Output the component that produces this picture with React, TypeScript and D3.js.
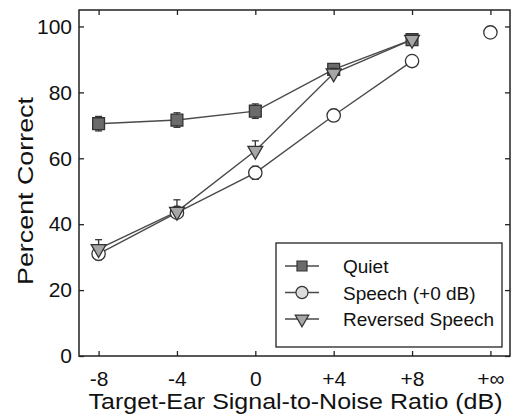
import React, { useEffect, useRef } from 'react';
import * as d3 from 'd3';

// SNR conditions (+inf plotted at 12)
const snrValues = [-8, -4, 0, 4, 8];
const tickValues = [-8, -4, 0, 4, 8, 12];
const tickLabels = ['-8', '-4', '0', '+4', '+8', '+\u221e'];
const yTicks = [0, 20, 40, 60, 80, 100];

const quietValues = [70.5, 71.6, 74.3, 87, 96];
const quietErr = [2.2, 2.2, 2.2, 1.3, 1.1];
const speechValues = [31, 43.5, 55.6, 73, 89.5];
const speechErr = [1.8, 1.5, 2, 1.8, 1.2];
const speechInf = 98.2;
const reversedValues = [32.5, 43.8, 62.3, 85.8, 96];
const reversedErr = [2.8, 3.6, 3, 1.5, 1.2];

const seriesNames = ['Quiet', 'Speech (+0 dB)', 'Reversed Speech'];

const width = 511;
const height = 418;
const left = 79;
const right = 510;
const top = 10;
const bottom = 356;
const font = '"Liberation Sans", Arial, sans-serif';

function App() {
    const svgRef = useRef<SVGSVGElement>(null);

    useEffect(() => {
        const svg = d3.select(svgRef.current);
        svg.selectAll('*').remove();

        const x = d3.scaleLinear().domain([-9, 13]).range([left, right]);
        const y = d3.scaleLinear().domain([0, 105]).range([bottom, top]);

        const ink = '#222';

        // frame
        svg.append('rect')
            .attr('x', left).attr('y', top)
            .attr('width', right - left).attr('height', bottom - top)
            .attr('fill', 'none').attr('stroke', ink).attr('stroke-width', 1.5);

        const xAxis = d3.axisBottom(x).tickValues(tickValues)
            .tickFormat((d, i) => tickLabels[i]).tickSize(-5).tickPadding(15);
        const xTop = d3.axisTop(x).tickValues(tickValues).tickFormat(() => '').tickSize(-5);
        const yAxis = d3.axisLeft(y).tickValues(yTicks).tickSize(-5).tickPadding(7);
        const yRight = d3.axisRight(y).tickValues(yTicks).tickFormat(() => '').tickSize(-5);

        const styleAxis = (g) => {
            g.select('.domain').remove();
            g.selectAll('line').attr('stroke', ink).attr('stroke-width', 1.3);
            g.selectAll('text').attr('fill', '#111').style('font-size', '21px').style('font-family', font);
        };

        svg.append('g').attr('transform', `translate(0,${bottom})`).call(xAxis).call(styleAxis);
        svg.append('g').attr('transform', `translate(0,${top})`).call(xTop).call(styleAxis);
        svg.append('g').attr('transform', `translate(${left},0)`).call(yAxis).call(styleAxis);
        svg.append('g').attr('transform', `translate(${right},0)`).call(yRight).call(styleAxis);

        // axis titles
        svg.append('text')
            .attr('x', 295.5).attr('y', 409)
            .attr('text-anchor', 'middle')
            .attr('textLength', 414).attr('lengthAdjust', 'spacingAndGlyphs')
            .style('font-family', font).style('font-size', '22px').attr('fill', '#111')
            .text('Target-Ear Signal-to-Noise Ratio (dB)');
        svg.append('text')
            .attr('transform', `translate(33,191) rotate(-90)`)
            .attr('text-anchor', 'middle')
            .attr('textLength', 188).attr('lengthAdjust', 'spacingAndGlyphs')
            .style('font-family', font).style('font-size', '22px').attr('fill', '#111')
            .text('Percent Correct');

        const series = [
            { values: quietValues, err: quietErr, upOnly: false, shape: d3.symbolSquare, size: 140, fill: '#6b6b6b', legendFill: '#6b6b6b', legendSize: 100, rot: 0 },
            { values: speechValues, err: speechErr, upOnly: false, shape: d3.symbolCircle, size: 140, fill: '#ffffff', legendFill: '#dcdcdc', legendSize: 115, rot: 0 },
            { values: reversedValues, err: reversedErr, upOnly: true, shape: d3.symbolTriangle, size: 95, fill: '#a6a6a6', legendFill: '#a6a6a6', legendSize: 80, rot: 180 },
        ];

        const line = d3.line<number>().x((d, i) => x(snrValues[i])).y((d) => y(d));

        series.forEach((s) => {
            svg.append('path')
                .attr('d', line(s.values))
                .attr('fill', 'none').attr('stroke', '#4a4a4a').attr('stroke-width', 1.4);
        });

        series.forEach((s) => {
            const g = svg.append('g');
            s.values.forEach((v, i) => {
                const cx = x(snrValues[i]);
                const y1 = y(v + s.err[i]);
                const y2 = s.upOnly ? y(v) : y(v - s.err[i]);
                g.append('line').attr('x1', cx).attr('x2', cx).attr('y1', y1).attr('y2', y2)
                    .attr('stroke', '#333').attr('stroke-width', 1.3);
                g.append('line').attr('x1', cx - 3.5).attr('x2', cx + 3.5).attr('y1', y1).attr('y2', y1)
                    .attr('stroke', '#333').attr('stroke-width', 1.3);
                if (!s.upOnly) {
                    g.append('line').attr('x1', cx - 3.5).attr('x2', cx + 3.5).attr('y1', y2).attr('y2', y2)
                        .attr('stroke', '#333').attr('stroke-width', 1.3);
                }
            });
            g.selectAll('path.mark')
                .data(s.values)
                .join('path')
                .attr('class', 'mark')
                .attr('d', d3.symbol(s.shape, s.size)())
                .attr('transform', (d, i) => `translate(${x(snrValues[i])},${y(d)}) rotate(${s.rot})`)
                .attr('fill', s.fill).attr('stroke', '#333').attr('stroke-width', 1.3);
        });

        // speech at +inf, unconnected
        svg.append('path')
            .attr('d', d3.symbol(d3.symbolCircle, 140)())
            .attr('transform', `translate(${x(12)},${y(speechInf)})`)
            .attr('fill', '#fff').attr('stroke', '#333').attr('stroke-width', 1.3);

        // legend
        const lg = svg.append('g');
        lg.append('rect')
            .attr('x', 276).attr('y', 243).attr('width', 226).attr('height', 104)
            .attr('fill', '#fff').attr('stroke', ink).attr('stroke-width', 1.3);
        series.forEach((s, i) => {
            const cy = 266 + i * 26.5;
            lg.append('line').attr('x1', 285).attr('x2', 319).attr('y1', cy).attr('y2', cy)
                .attr('stroke', '#4a4a4a').attr('stroke-width', 1.4);
            lg.append('path')
                .attr('d', d3.symbol(s.shape, s.legendSize)())
                .attr('transform', `translate(302,${cy}) rotate(${s.rot})`)
                .attr('fill', s.legendFill).attr('stroke', '#333').attr('stroke-width', 1.2);
            lg.append('text')
                .attr('x', 343).attr('y', cy + 7)
                .style('font-family', font).style('font-size', '19px').attr('fill', '#111')
                .text(seriesNames[i]);
        });
    }, []);

    return (
        <div style={{ position: 'absolute', left: 0, top: 0, width, height, background: '#fff' }}>
            <svg ref={svgRef} width={width} height={height} />
        </div>
    );
}

export default App;
